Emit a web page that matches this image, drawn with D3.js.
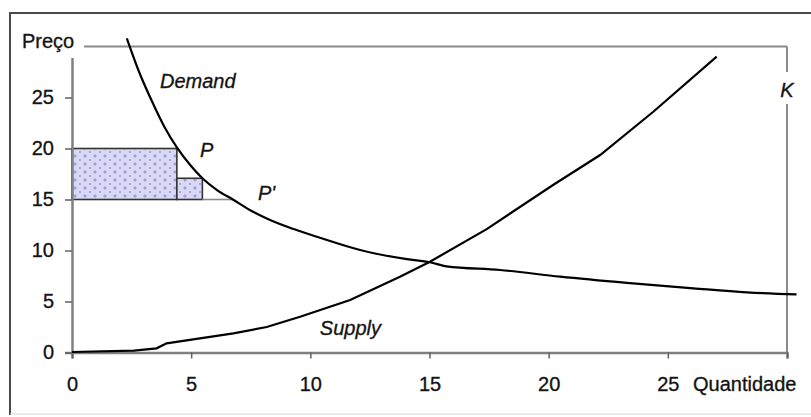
<!DOCTYPE html>
<html>
<head>
<meta charset="utf-8">
<script src="https://cdn.jsdelivr.net/npm/d3@7"></script>
<style>
  body { margin: 0; background: #fff; }
  svg { display: block; }
  text { font-family: "Liberation Sans", Arial, sans-serif; fill: #111; stroke: #222; stroke-width: 0.35px; }
</style>
</head>
<body>
<svg id="chart" width="811" height="417"></svg>
<script>
// Axis ticks
const xTicks = [0, 5, 10, 15, 20, 25];
const yTicks = [0, 5, 10, 15, 20, 25];

// Demand curve (quantity, price)
const demandQ = [2.3, 2.8, 3.36, 3.88, 4.4, 4.95, 5.47, 6.1, 6.75, 7.5, 8.31, 9.3, 10.27, 12.09, 14.05, 15.02, 15.72, 17.96, 20.48, 23.28, 26.07, 28.31, 30.4];
const demandP = [30.8, 27.6, 24.6, 22.1, 20.1, 18.4, 17.08, 15.9, 15.0, 13.92, 12.99, 12.1, 11.35, 10.05, 9.15, 8.85, 8.45, 8.09, 7.43, 6.82, 6.29, 5.9, 5.7];

// Supply curve (quantity, price)
const supplyQ = [0, 2.6, 3.55, 3.97, 6.77, 8.17, 9.57, 11.67, 13.76, 15.02, 17.4, 20.2, 22.16, 24.39, 27.05];
const supplyP = [0.05, 0.18, 0.41, 0.9, 1.88, 2.5, 3.5, 5.15, 7.43, 8.9, 12.1, 16.45, 19.36, 23.6, 29.0];

// Shaded areas between the two price levels
const areaQ0 = [0, 4.4];
const areaQ1 = [4.4, 5.47];
const areaTop = [20, 17.08];
const basePrice = 15;
const pPrimeQ = 6.75;

// Text annotations
const noteText = ["Demand", "Supply", "P", "P'"];
const noteQ = [3.69, 10.4, 5.37, 7.8];
const noteP = [25.9, 1.7, 19.15, 14.95];

const svg = d3.select("#chart");
const W = 811, H = 417;

const x = d3.scaleLinear().domain([0, 30]).range([72, 787]);
const y = d3.scaleLinear().domain([0, 30]).range([352.5, 46.5]);

// Outer frame
svg.append("line").attr("x1", 10).attr("y1", 13).attr("x2", W).attr("y2", 13)
  .attr("stroke", "#4a4a4a").attr("stroke-width", 2);
svg.append("line").attr("x1", 10).attr("y1", 12).attr("x2", 10).attr("y2", 415)
  .attr("stroke", "#4a4a4a").attr("stroke-width", 2);
svg.append("line").attr("x1", 10).attr("y1", 414).attr("x2", W).attr("y2", 414)
  .attr("stroke", "#d8d8d8").attr("stroke-width", 1);

// Dotted fill pattern
const defs = svg.append("defs");
const pat = defs.append("pattern").attr("id", "dots")
  .attr("patternUnits", "userSpaceOnUse").attr("width", 10).attr("height", 8);
pat.append("rect").attr("width", 10).attr("height", 8).attr("fill", "#d9d9f5");
[[5, 3], [4, 4], [6, 4], [5, 5], [5, 4]].forEach(([cx, cy], i) => {
  pat.append("rect").attr("x", cx - 0.5).attr("y", cy - 0.5).attr("width", 1).attr("height", 1)
    .attr("fill", i === 4 ? "#8c8cd0" : "#6a6ab8");
});
[[0, 0], [10, 0], [0, 8], [10, 8]].forEach(([cx, cy]) => {
  pat.append("circle").attr("cx", cx).attr("cy", cy).attr("r", 0.9).attr("fill", "#9090cc");
});

// Plot area border (top and right)
const plot = svg.append("g");
plot.append("line").attr("x1", x(0)).attr("x2", x(30)).attr("y1", y(30)).attr("y2", y(30))
  .attr("stroke", "#8a8a8a").attr("stroke-width", 2);
plot.append("line").attr("x1", x(30)).attr("x2", x(30)).attr("y1", y(30)).attr("y2", y(0))
  .attr("stroke", "#8a8a8a").attr("stroke-width", 2);

// Shaded rectangles
const areas = areaQ0.map((q0, i) => ({ q0, q1: areaQ1[i], top: areaTop[i] }));
plot.selectAll("rect.area").data(areas).join("rect").attr("class", "area")
  .attr("x", d => x(d.q0)).attr("width", d => x(d.q1) - x(d.q0))
  .attr("y", d => y(d.top)).attr("height", d => y(basePrice) - y(d.top))
  .attr("fill", "url(#dots)").attr("stroke", "#333").attr("stroke-width", 1.6);

// Price line from the rectangles to P'
plot.append("line").attr("x1", x(areaQ1[1])).attr("x2", x(pPrimeQ))
  .attr("y1", y(basePrice)).attr("y2", y(basePrice))
  .attr("stroke", "#8a8a8a").attr("stroke-width", 1.6);

// Axes
const xAxis = d3.axisBottom(x).tickValues(xTicks.concat([30])).tickSize(6).tickFormat(d => xTicks.includes(d) ? d : "");
const gx = svg.append("g").attr("transform", `translate(0,${y(0)})`).call(xAxis);
gx.select(".domain").attr("stroke", "#808080").attr("stroke-width", 2.5);
gx.selectAll(".tick line").attr("stroke", "#606060").attr("stroke-width", 1.5);
gx.selectAll(".tick text").attr("font-size", 20).attr("dy", null).attr("y", 38)
  .style("font-family", "'Liberation Sans', Arial, sans-serif").attr("fill", "#111");

const yAxis = d3.axisLeft(y).tickValues(yTicks).tickSize(7).tickPadding(10);
const gy = svg.append("g").attr("transform", `translate(${x(0)},0)`).call(yAxis);
gy.select(".domain").attr("stroke", "#808080").attr("stroke-width", 2.5);
gy.selectAll(".tick line").attr("stroke", "#606060").attr("stroke-width", 1.5);
gy.selectAll(".tick text").attr("font-size", 20).attr("dy", "0.3em").attr("x", -18)
  .style("font-family", "'Liberation Sans', Arial, sans-serif").attr("fill", "#111");

// Curves
const demand = demandQ.map((q, i) => [q, demandP[i]]);
const supply = supplyQ.map((q, i) => [q, supplyP[i]]);
const line = d3.line().x(d => x(d[0])).y(d => y(d[1]));
svg.append("path").datum(demand).attr("fill", "none").attr("stroke", "#000").attr("stroke-width", 2.2)
  .attr("d", line.curve(d3.curveMonotoneX));
svg.append("path").datum(supply).attr("fill", "none").attr("stroke", "#000").attr("stroke-width", 2.2)
  .attr("d", line.curve(d3.curveLinear));

// Curve and point labels
svg.selectAll("text.note").data(noteText).join("text").attr("class", "note")
  .attr("x", (d, i) => x(noteQ[i])).attr("y", (d, i) => y(noteP[i]))
  .attr("font-size", 20).attr("font-style", "italic").text(d => d);

// Axis titles with white backing
const preco = svg.append("g");
preco.append("rect").attr("x", 18).attr("y", 28).attr("width", 66).attr("height", 30).attr("fill", "#fff");
preco.append("text").attr("x", 22).attr("y", 47.5).attr("font-size", 20).text("Preço");

const k = svg.append("g");
k.append("rect").attr("x", x(30) - 10).attr("y", 72).attr("width", 20).attr("height", 32).attr("fill", "#fff");
k.append("text").attr("x", x(30)).attr("y", 97).attr("text-anchor", "middle")
  .attr("font-size", 20).attr("font-style", "italic").text("K");

svg.append("text").attr("x", 693).attr("y", 391).attr("font-size", 20).text("Quantidade");
</script>
</body>
</html>
